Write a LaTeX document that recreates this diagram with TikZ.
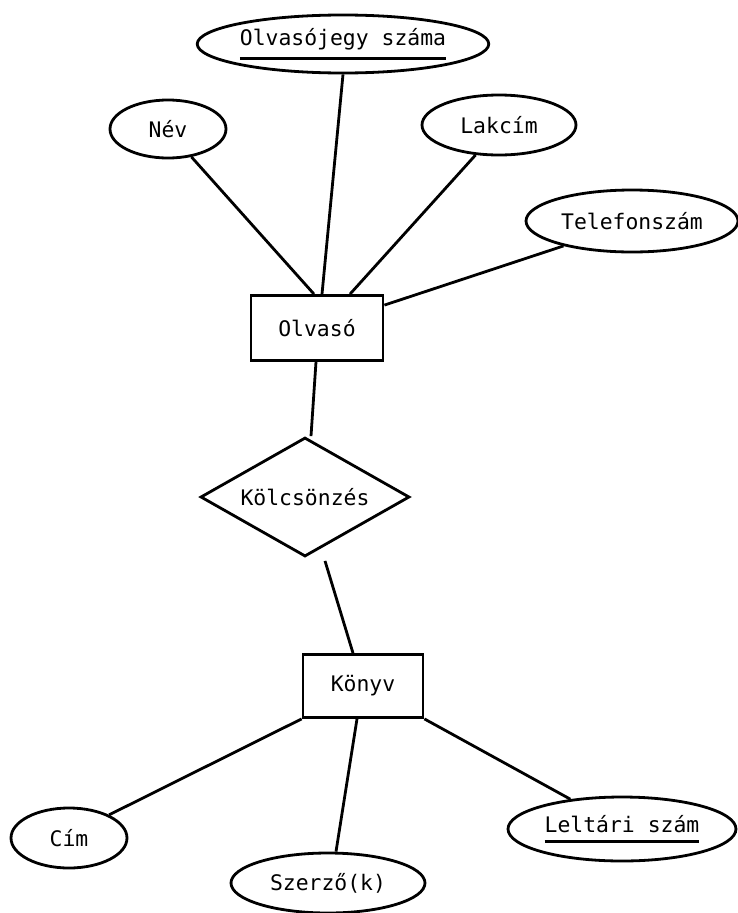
\documentclass[tikz,border=0pt]{standalone}
\usepackage{fontspec}
\setmainfont{DejaVu Sans Mono}
\usetikzlibrary{shapes.geometric}
\newcommand{\kulcs}[1]{\vtop{\hbox{#1}\kern7pt\hrule height 2.8pt}}
\tikzset{
	attr/.style={draw, ellipse, inner sep=0pt},
	egyed/.style={draw, rectangle, inner sep=0pt},
	kapcs/.style={draw, diamond, inner sep=0pt, shape aspect=1.76, minimum width=209pt, minimum height=119pt}
}
\begin{document}
\begin{tikzpicture}[x=1pt, y=-1pt, line width=2.8pt, font=\fontsize{21.4}{25}\selectfont]
				\useasboundingbox (0,0) rectangle (738,913);
				% egyedek es kapcsolat
					\node[egyed, minimum width=132pt, minimum height=65pt] (olvaso) at (317,328) {Olvasó};
					\node[kapcs] (kolcs) at (305,497) {Kölcsönzés};
					\node[egyed, minimum width=120pt, minimum height=63pt] (konyv) at (363,686) {Könyv};
				% tulajdonsagok
					\node[attr, minimum width=286pt, minimum height=58pt] (jegy) at (343,44) {\kulcs{Olvasójegy száma}};
					\node[attr, minimum width=116pt, minimum height=58pt] (nev) at (168,129) {Név};
					\node[attr, minimum width=154pt, minimum height=60pt] (lakcim) at (499,125) {Lakcím};
					\node[attr, minimum width=212pt, minimum height=62pt] (tel) at (632,221) {Telefonszám};
					\node[attr, minimum width=116pt, minimum height=60pt] (cim) at (69,838) {Cím};
					\node[attr, minimum width=194pt, minimum height=60pt] (szerzo) at (328,883) {Szerző(k)};
					\node[attr, minimum width=228pt, minimum height=64pt] (leltari) at (622,829) {\kulcs{Leltári szám}};
				% vonalak
					\draw (jegy.south) -- ([xshift=5pt]olvaso.north);
					\draw (nev.-50) -- ([xshift=-3pt]olvaso.north);
					\draw (lakcim.-128) -- ([xshift=33pt]olvaso.north);
					\draw (tel.-160) -- ([yshift=-11pt]olvaso.north east);
					\draw ([xshift=-1pt]olvaso.south) -- ([xshift=6pt]kolcs.north);
					\draw ([xshift=20pt,yshift=-3pt]kolcs.south) -- ([xshift=-10pt]konyv.north);
					\draw (konyv.south west) -- (cim.30);
					\draw ([xshift=-6pt]konyv.south) -- ([xshift=8pt]szerzo.north);
					\draw (konyv.south east) -- (leltari.150);
			\end{tikzpicture}
\end{document}
